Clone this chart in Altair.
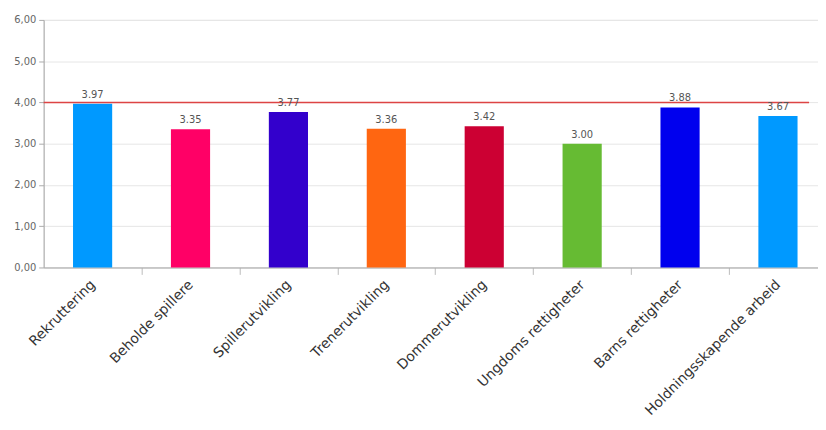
import altair as alt
import pandas as pd

categories = ["Rekruttering", "Beholde spillere", "Spillerutvikling", "Trenerutvikling",
              "Dommerutvikling", "Ungdoms rettigheter", "Barns rettigheter",
              "Holdningsskapende arbeid"]
values = [3.97, 3.35, 3.77, 3.36, 3.42, 3.00, 3.88, 3.67]
colors = ["#0099ff", "#ff0066", "#3300cc", "#ff6611", "#cc0033", "#66bb33", "#0000ee", "#0099ff"]
target = [4.0]

df = pd.DataFrame({"kategori": categories, "verdi": values, "farge": colors})
ref = pd.DataFrame({"mål": target})

x_enc = alt.X("kategori:N", sort=categories, title=None,
              scale=alt.Scale(range=[0, 791], paddingInner=0.6, paddingOuter=0.3),
              axis=alt.Axis(labelAngle=-45, labelAlign="right", labelBaseline="middle",
                            labelFont="DejaVu Sans", labelFontSize=14, labelColor="#333",
                            labelPadding=8, tickOffset=49.4, labelOffset=-49.4,
                            labelLimit=400, tickColor="#bbb", tickSize=7,
                            domainColor="#aaa", grid=False, labelOverlap=False))
y_enc = alt.Y("verdi:Q", title=None,
              scale=alt.Scale(domain=[0, 6], nice=False),
              axis=alt.Axis(values=[0, 1, 2, 3, 4, 5, 6],
                            labelExpr="replace(format(datum.value, '.2f'), '.', ',')",
                            labelFont="DejaVu Sans", labelFontSize=10, labelColor="#666",
                            labelPadding=3, tickColor="#aaa", tickSize=5,
                            domainColor="#aaa", gridColor="#e6e6e6"))

bars = alt.Chart(df).mark_bar().encode(
    x=x_enc, y=y_enc,
    color=alt.Color("farge:N", scale=None),
)

text = alt.Chart(df).mark_text(baseline="bottom", dy=-4, font="DejaVu Sans",
                               fontSize=10, color="#555").encode(
    x=alt.X("kategori:N", sort=categories),
    y="verdi:Q",
    text=alt.Text("verdi:Q", format=".2f"),
)

rule = alt.Chart(ref).mark_rule(color="#dd4444", strokeWidth=1.5).encode(
    y="mål:Q",
    x=alt.value(0),
    x2=alt.value(773),
)

chart = alt.layer(bars, rule, text).properties(
    width=782, height=250,
    autosize=alt.AutoSizeParams(type="none"),
    padding={"left": 36, "top": 10, "right": 0, "bottom": 150},
).configure_view(stroke=None).configure(background="white")

chart.save("out.html", embed_options={"renderer": "svg", "actions": False})
